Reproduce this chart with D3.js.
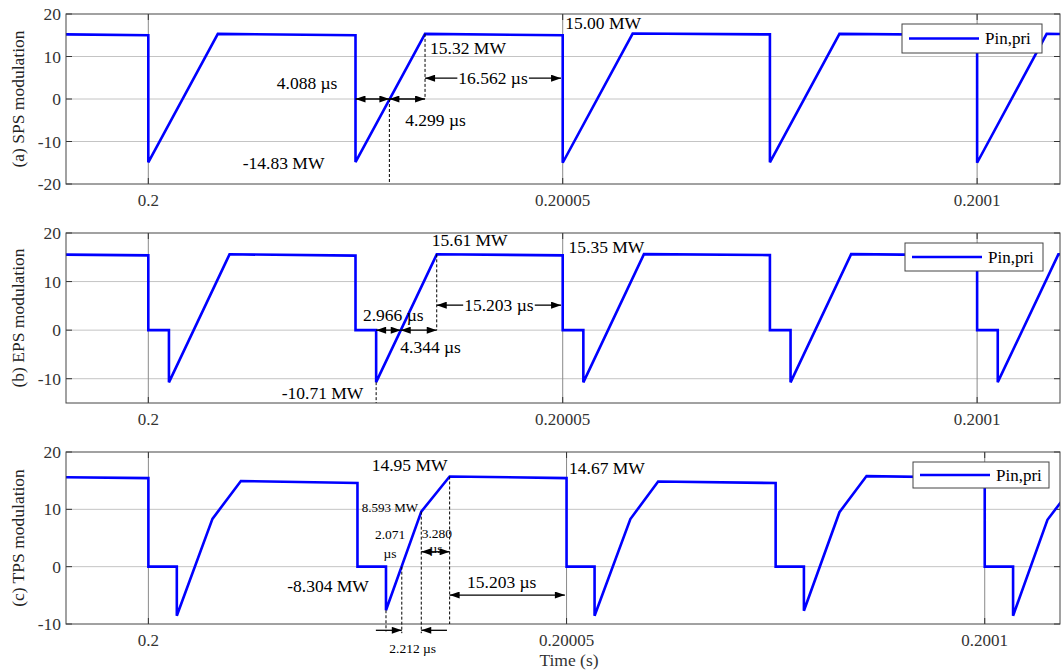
<!DOCTYPE html>
<html>
<head>
<meta charset="utf-8">
<script src="https://cdn.jsdelivr.net/npm/d3@7"></script>
<style>
  body { margin: 0; background: #fff; }
  svg text { font-family: "Liberation Serif", "DejaVu Serif", serif; }
</style>
</head>
<body>
<div id="chart"></div>
<script>
// time is in µs after t = 0.2 s, power in MW
const xTickVals = [0, 50, 100];
const xTickLabels = ["0.2", "0.20005", "0.2001"];

// (a) SPS
const spsTime  = [-9.93, 0, 0, 8.39, 25, 25, 33.39, 50, 50, 58.44, 75, 75, 83.39, 100, 100, 108.39, 110.0];
const spsPower = [15.2, 15.0, -14.9, 15.32, 15.0, -14.83, 15.32, 15.0, -15.0, 15.4, 15.2, -14.9, 15.32, 15.05, -15.0, 15.32, 15.3];

// (b) EPS
const epsTime  = [-9.93, 0, 0, 2.49, 2.49, 9.8, 25, 25, 27.49, 27.49, 34.8, 50, 50, 52.49, 52.49, 59.8, 75, 75, 77.49, 77.49, 84.8, 100, 100, 102.49, 102.49, 109.8, 110.0];
const epsPower = [15.55, 15.4, 0, 0, -10.75, 15.61, 15.35, 0, 0, -10.71, 15.61, 15.4, 0, 0, -10.75, 15.65, 15.45, 0, 0, -10.75, 15.65, 15.4, 0, 0, -10.71, 15.61, 15.6];

// (c) TPS
const tpsTime  = [-9.85, 0, 0, 3.4, 3.4, 7.66, 11.06, 25, 25, 28.41, 28.41, 32.63, 36.02, 50, 50, 53.35, 53.35, 57.63, 60.95, 75, 75, 78.38, 78.38, 82.63, 85.87, 100, 100, 103.39, 103.39, 107.5, 111.0];
const tpsPower = [15.6, 15.45, 0, 0, -8.55, 8.34, 14.93, 14.6, 0, 0, -7.6, 9.6, 15.73, 15.45, 0, 0, -8.55, 8.3, 14.86, 14.58, 0, 0, -7.7, 9.5, 15.8, 15.5, 0, 0, -8.55, 8.17, 14.9];

// annotations: text anchored at its left edge, vertically centred
const spsNotes = [
  {text: "4.088 µs",  t: 15.5, p: 3.8},
  {text: "4.299 µs",  t: 31.0, p: -4.9},
  {text: "15.32 MW",  t: 34.0, p: 12.0},
  {text: "-14.83 MW", t: 11.4, p: -15.1},
  {text: "15.00 MW",  t: 50.3, p: 17.9}
];
const epsNotes = [
  {text: "2.966 µs",  t: 25.9, p: 3.1},
  {text: "4.344 µs",  t: 30.4, p: -3.5},
  {text: "-10.71 MW", t: 16.1, p: -13.0},
  {text: "15.61 MW",  t: 34.2, p: 18.5},
  {text: "15.35 MW",  t: 50.7, p: 17.2}
];
const tpsNotes = [
  {text: "14.95 MW",  t: 26.7, p: 17.7},
  {text: "14.67 MW",  t: 50.3, p: 17.2},
  {text: "-8.304 MW", t: 16.6, p: -3.3},
  {text: "15.203 µs", t: 38.1, p: -2.6},
  {text: "8.593 MW",  t: 25.5, p: 10.4, small: true}
];

const W = 1062, H = 672;
const plotL = 66, plotR = 1060;

const svg = d3.select("#chart").append("svg")
  .attr("width", W).attr("height", H);

const defs = svg.append("defs");
defs.append("marker")
  .attr("id", "head")
  .attr("viewBox", "0 0 10 7")
  .attr("refX", 10).attr("refY", 3.5)
  .attr("markerWidth", 11).attr("markerHeight", 7)
  .attr("markerUnits", "userSpaceOnUse")
  .attr("orient", "auto-start-reverse")
  .append("path").attr("d", "M0,0 L10,3.5 L0,7 Z").attr("fill", "#000");

const panels = [
  {key: "a", label: "(a) SPS modulation", time: spsTime, power: spsPower, notes: spsNotes,
   yDomain: [-20, 20], yTicks: [-20, -10, 0, 10, 20], top: 14, bottom: 184, xDomain: [-9.93, 110.0],
   legend: {x: 902, y: 24, w: 140, h: 29}},
  {key: "b", label: "(b) EPS modulation", time: epsTime, power: epsPower, notes: epsNotes,
   yDomain: [-15, 20], yTicks: [-10, 0, 10, 20], top: 233, bottom: 403, xDomain: [-9.93, 110.0],
   legend: {x: 905, y: 243, w: 138, h: 28}},
  {key: "c", label: "(c) TPS modulation", time: tpsTime, power: tpsPower, notes: tpsNotes,
   yDomain: [-10, 20], yTicks: [-10, 0, 10, 20], top: 452, bottom: 624, xDomain: [-9.85, 109.0],
   legend: {x: 913, y: 462, w: 136, h: 26}}
];

panels.forEach(pn => {
  const x = d3.scaleLinear().domain(pn.xDomain).range([plotL, plotR]);
  const y = d3.scaleLinear().domain(pn.yDomain).range([pn.bottom, pn.top]);
  pn.x = x; pn.y = y;
  const g = svg.append("g");

  // grid
  g.selectAll(".hgrid").data(pn.yTicks.filter(v => v > pn.yDomain[0] && v < pn.yDomain[1]))
    .join("line")
    .attr("x1", plotL).attr("x2", plotR)
    .attr("y1", d => y(d)).attr("y2", d => y(d))
    .attr("stroke", "#c4c4c4").attr("stroke-width", 1);
  g.selectAll(".vgrid").data(xTickVals)
    .join("line")
    .attr("x1", d => x(d)).attr("x2", d => x(d))
    .attr("y1", pn.top).attr("y2", pn.bottom)
    .attr("stroke", "#8a8a8a").attr("stroke-width", 1);

  // tick marks, inside on all sides
  pn.yTicks.forEach(v => {
    g.append("line").attr("x1", plotL).attr("x2", plotL + 6).attr("y1", y(v)).attr("y2", y(v)).attr("stroke", "#333");
    g.append("line").attr("x1", plotR - 6).attr("x2", plotR).attr("y1", y(v)).attr("y2", y(v)).attr("stroke", "#333");
  });
  xTickVals.forEach(v => {
    g.append("line").attr("x1", x(v)).attr("x2", x(v)).attr("y1", pn.bottom - 6).attr("y2", pn.bottom).attr("stroke", "#333");
    g.append("line").attr("x1", x(v)).attr("x2", x(v)).attr("y1", pn.top).attr("y2", pn.top + 6).attr("stroke", "#333");
  });

  // tick labels
  g.selectAll(".ylab").data(pn.yTicks).join("text")
    .attr("x", plotL - 5).attr("y", d => y(d))
    .attr("text-anchor", "end").attr("dominant-baseline", "central")
    .attr("font-size", 17.5).attr("fill", "#333")
    .text(d => d);
  g.selectAll(".xlab").data(xTickVals).join("text")
    .attr("x", d => x(d)).attr("y", pn.bottom + 16)
    .attr("text-anchor", "middle").attr("dominant-baseline", "central")
    .attr("font-size", 17).attr("fill", "#333")
    .text((d, i) => xTickLabels[i]);

  // y axis title
  g.append("text")
    .attr("transform", `translate(18,${(pn.top + pn.bottom) / 2}) rotate(-90)`)
    .attr("text-anchor", "middle").attr("dominant-baseline", "central")
    .attr("font-size", 17.5).attr("fill", "#222")
    .text(pn.label);

  // waveform
  const clipId = "clip-" + pn.key;
  defs.append("clipPath").attr("id", clipId)
    .append("rect").attr("x", plotL).attr("y", pn.top)
    .attr("width", plotR - plotL).attr("height", pn.bottom - pn.top);
  const pts = pn.time.map((t, i) => [t, pn.power[i]]);
  g.append("path")
    .datum(pts)
    .attr("clip-path", `url(#${clipId})`)
    .attr("fill", "none").attr("stroke", "#0000ff").attr("stroke-width", 2.6)
    .attr("stroke-linejoin", "miter")
    .attr("d", d3.line().x(d => x(d[0])).y(d => y(d[1])));

  // frame
  g.append("rect")
    .attr("x", plotL).attr("y", pn.top)
    .attr("width", plotR - plotL).attr("height", pn.bottom - pn.top)
    .attr("fill", "none").attr("stroke", "#444").attr("stroke-width", 1);

  // notes
  g.selectAll(".note").data(pn.notes).join("text")
    .attr("x", d => x(d.t)).attr("y", d => y(d.p))
    .attr("dominant-baseline", "central")
    .attr("font-size", d => d.small ? 13 : 17.5)
    .attr("fill", "#000")
    .text(d => d.text);

  // legend
  const lg = pn.legend;
  g.append("rect").attr("x", lg.x).attr("y", lg.y).attr("width", lg.w).attr("height", lg.h)
    .attr("fill", "#fff").attr("stroke", "#444").attr("stroke-width", 1);
  g.append("line").attr("x1", lg.x + 7).attr("x2", lg.x + 77)
    .attr("y1", lg.y + lg.h / 2).attr("y2", lg.y + lg.h / 2)
    .attr("stroke", "#0000ff").attr("stroke-width", 2.6);
  g.append("text").attr("x", lg.x + 83).attr("y", lg.y + lg.h / 2)
    .attr("dominant-baseline", "central").attr("font-size", 17).attr("fill", "#000")
    .text("Pin,pri");
});

// helpers for dimension marks
function dashed(pn, t, p1, p2) {
  svg.append("line")
    .attr("x1", pn.x(t)).attr("x2", pn.x(t))
    .attr("y1", pn.y(p1)).attr("y2", pn.y(p2))
    .attr("stroke", "#000").attr("stroke-width", 1).attr("stroke-dasharray", "3,2");
}
function arrow(pn, t1, t2, p, start, end) {
  const l = svg.append("line")
    .attr("x1", pn.x(t1)).attr("x2", pn.x(t2))
    .attr("y1", pn.y(p)).attr("y2", pn.y(p))
    .attr("stroke", "#000").attr("stroke-width", 1.3);
  if (start) l.attr("marker-start", "url(#head)");
  if (end) l.attr("marker-end", "url(#head)");
}
function spanLabel(pn, t1, t2, p, label, size) {
  // arrow with its label sitting inside the line
  const txt = svg.append("text")
    .attr("x", (pn.x(t1) + pn.x(t2)) / 2).attr("y", pn.y(p))
    .attr("text-anchor", "middle").attr("dominant-baseline", "central")
    .attr("font-size", size).attr("fill", "#000").text(label);
  const bb = txt.node().getBBox();
  svg.append("line").attr("x1", pn.x(t1)).attr("x2", bb.x - 1)
    .attr("y1", pn.y(p)).attr("y2", pn.y(p))
    .attr("stroke", "#000").attr("stroke-width", 1.3).attr("marker-start", "url(#head)");
  svg.append("line").attr("x1", bb.x + bb.width + 1).attr("x2", pn.x(t2))
    .attr("y1", pn.y(p)).attr("y2", pn.y(p))
    .attr("stroke", "#000").attr("stroke-width", 1.3).attr("marker-end", "url(#head)");
}
function smallText(pn, t, p, s) {
  svg.append("text").attr("x", pn.x(t)).attr("y", pn.y(p))
    .attr("text-anchor", "middle").attr("dominant-baseline", "central")
    .attr("font-size", 13.5).attr("fill", "#000").text(s);
}

// (a)
const [pa, pb, pc] = panels;
dashed(pa, 29.088, 0, -20);
dashed(pa, 33.39, 15.32, 0);
arrow(pa, 25, 29.088, 0, true, true);
arrow(pa, 29.088, 33.39, 0, true, true);
spanLabel(pa, 33.39, 49.8, 4.9, "16.562 µs", 17.5);

// (b)
dashed(pb, 27.49, -10.71, -15);
dashed(pb, 34.8, 15.61, 0);
arrow(pb, 27.49, 30.456, 0, true, true);
arrow(pb, 30.456, 34.8, 0, true, true);
spanLabel(pb, 34.8, 49.8, 5.15, "15.203 µs", 17.5);

// (c)
dashed(pc, 28.41, -7.6, -11.3);
dashed(pc, 30.3, 0, -11.6);
dashed(pc, 32.63, 9.6, -11.6);
dashed(pc, 36.02, 15.73, -10);
arrow(pc, 32.63, 36.02, 2.6, true, true);
arrow(pc, 36.02, 49.8, -4.95, true, true);
arrow(pc, 27.2, 30.3, -11.1, false, true);
arrow(pc, 35.7, 32.63, -11.1, false, true);
smallText(pc, 28.9, 5.6, "2.071");
smallText(pc, 28.9, 2.3, "µs");
smallText(pc, 34.5, 5.7, "3.280");
smallText(pc, 34.4, 3.25, "µs");
smallText(pc, 31.6, -14.2, "2.212 µs");

// x axis title
svg.append("text")
  .attr("x", 569).attr("y", 660)
  .attr("text-anchor", "middle").attr("dominant-baseline", "central")
  .attr("font-size", 17.5).attr("fill", "#333")
  .text("Time (s)");
</script>
</body>
</html>
